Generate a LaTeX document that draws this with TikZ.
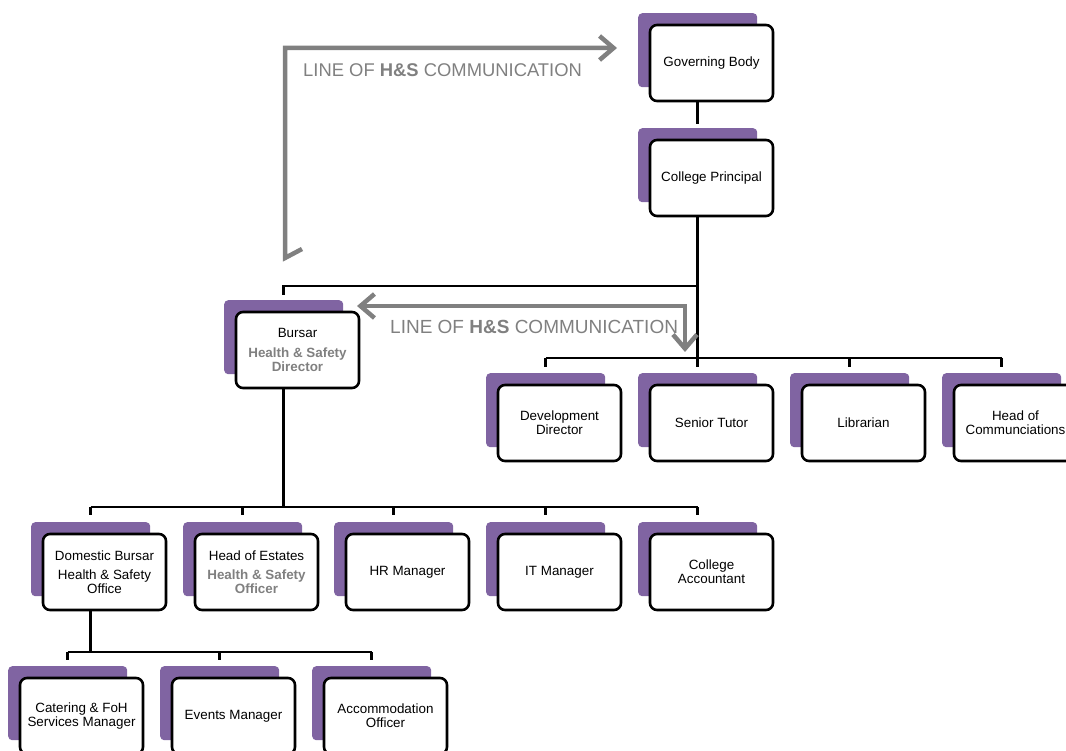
\documentclass[tikz,border=0pt]{standalone}
\usepackage{fontspec}
\setmainfont{Liberation Sans}
\usetikzlibrary{arrows.meta}
\definecolor{accentpurple}{RGB}{128,100,162}
\definecolor{hsgray}{RGB}{128,128,128}
\begin{document}
\begin{tikzpicture}[x=1pt,y=-1pt,
  accent/.style={fill=accentpurple, draw=none, rounded corners=4pt, minimum width=119pt, minimum height=74pt, inner sep=0pt, anchor=north west},
  orgbox/.style={fill=white, draw=black, line width=2.6pt, rounded corners=7pt, minimum width=123pt, minimum height=76pt, inner sep=1pt, align=center, font=\fontsize{13.4}{13.6}\selectfont},
  conn/.style={draw=black, line width=2.6pt},
  hsarrow/.style={draw=hsgray, line width=4.5pt},
  hstext/.style={text=hsgray, inner sep=0pt, anchor=base west}]
\useasboundingbox (0,0) rectangle (1066,751);

% accent (purple) plates
\node[accent] (gbA) at (638,13) {};
\node[accent] (cpA) at (638,128) {};
\node[accent] (buA) at (224,300) {};
\node[accent] (ddA) at (486,373) {};
\node[accent] (stA) at (638,373) {};
\node[accent] (liA) at (790,373) {};
\node[accent] (hcA) at (942,373) {};
\node[accent] (dbA) at (31,522) {};
\node[accent] (heA) at (183,522) {};
\node[accent] (hrA) at (334,522) {};
\node[accent] (itA) at (486,522) {};
\node[accent] (caA) at (638,522) {};
\node[accent] (ctA) at (8,666) {};
\node[accent] (evA) at (160,666) {};
\node[accent] (acA) at (312,666) {};

% white boxes
\node[orgbox] (gb) at ([shift={(73.5,50)}]gbA.north west) {Governing Body};
\node[orgbox] (cp) at ([shift={(73.5,50)}]cpA.north west) {College Principal};
\node[orgbox] (bu) at ([shift={(73.5,50)}]buA.north west) {Bursar\\[6pt]\textcolor{hsgray}{\textbf{Health \& Safety}}\\\textcolor{hsgray}{\textbf{Director}}};
\node[orgbox] (dd) at ([shift={(73.5,50)}]ddA.north west) {Development\\Director};
\node[orgbox] (st) at ([shift={(73.5,50)}]stA.north west) {Senior Tutor};
\node[orgbox] (li) at ([shift={(73.5,50)}]liA.north west) {Librarian};
\node[orgbox] (hc) at ([shift={(73.5,50)}]hcA.north west) {Head of\\Communciations};
\node[orgbox] (db) at ([shift={(73.5,50)}]dbA.north west) {Domestic Bursar\\[6pt]Health \& Safety\\Office};
\node[orgbox] (he) at ([shift={(73.5,50)}]heA.north west) {Head of Estates\\[6pt]\textcolor{hsgray}{\textbf{Health \& Safety}}\\\textcolor{hsgray}{\textbf{Officer}}};
\node[orgbox] (hr) at ([shift={(73.5,50)}]hrA.north west) {HR Manager};
\node[orgbox] (it) at ([shift={(73.5,50)}]itA.north west) {IT Manager};
\node[orgbox] (ca) at ([shift={(73.5,50)}]caA.north west) {College\\Accountant};
\node[orgbox] (ct) at ([shift={(73.5,50)}]ctA.north west) {Catering \& FoH\\Services Manager};
\node[orgbox] (ev) at ([shift={(73.5,50)}]evA.north west) {Events Manager};
\node[orgbox] (ac) at ([shift={(73.5,50)}]acA.north west) {Accommodation\\Officer};

% bus levels
\coordinate (busB) at (0,286);
\coordinate (busR) at (0,358);
\coordinate (busC) at (0,507);
\coordinate (busD) at (0,652);

% connectors
\draw[conn] (gb.south -| gbA.north) -- ([yshift=4pt]cpA.north);
\draw[conn] (cp.south -| cpA.north) -- ([yshift=6pt]stA.north);
\draw[conn] (busB -| cpA.north) -- (busB -| buA.north) -- ([yshift=5pt]buA.north);
\draw[conn] (busR -| ddA.north) -- (busR -| hcA.north);
\foreach \n in {ddA,stA,liA,hcA} \draw[conn] (busR -| \n.north) -- ([yshift=6pt]\n.north);
\draw[conn] (bu.south -| buA.north) -- (busC -| buA.north);
\draw[conn] (busC -| dbA.north) -- (busC -| caA.north);
\foreach \n in {dbA,heA,hrA,itA,caA} \draw[conn] (busC -| \n.north) -- ([yshift=7pt]\n.north);
\draw[conn] (db.south -| dbA.north) -- (busD -| dbA.north);
\draw[conn] (busD -| ctA.north) -- (busD -| acA.north);
\foreach \n in {ctA,evA,acA} \draw[conn] (busD -| \n.north) -- ([yshift=6pt]\n.north);

% lines of H&S communication
\coordinate (t1) at (302,249);
\coordinate (t2) at (285,258);
\coordinate (t3) at (285,48);
\coordinate (t4) at (617,48);
\draw[hsarrow, -{Straight Barb[length=14pt,width=24pt]}] (t1) -- (t2) -- (t3) -- (t4);
\node[hstext, font=\fontsize{18.4}{22}\selectfont] (lbl1) at (303,77) {LINE OF \textbf{H\&S} COMMUNICATION};

\coordinate (h1) at (357,306);
\coordinate (h2) at (685,306);
\coordinate (h3) at (685,352);
\draw[hsarrow, {Straight Barb[length=14pt,width=24pt]}-{Straight Barb[length=14pt,width=24pt]}] (h1) -- (h2) -- (h3);
\node[hstext, font=\fontsize{19}{22}\selectfont] (lbl2) at (390,333.5) {LINE OF \textbf{H\&S} COMMUNICATION};
\end{tikzpicture}
\end{document}
